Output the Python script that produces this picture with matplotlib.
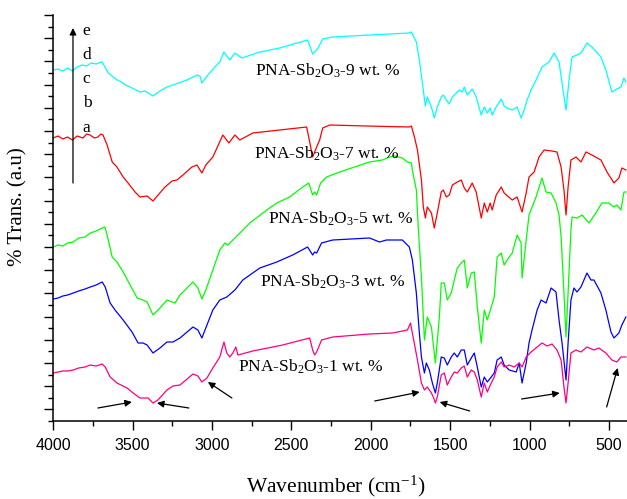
import numpy as np
import matplotlib
matplotlib.use("Agg")
import matplotlib.pyplot as plt
from matplotlib.ticker import MultipleLocator, FixedLocator, NullFormatter

plt.rcParams['mathtext.fontset'] = 'custom'
plt.rcParams['mathtext.rm'] = 'Liberation Serif'
plt.rcParams['mathtext.default'] = 'regular'

# ---- data: (wavenumber cm-1, transmittance a.u.) ----
spec9 = [(4000,351),(3970,352),(3940,350),(3910,353),(3880,350),(3850,354),(3820,356),(3790,355),(3760,358),(3730,357),
         (3700,359),(3692,359),(3654,348),(3630,345),(3598,341),(3570,339),(3545,336),(3516,334),(3453,329),(3422,330),
         (3372,325),(3328,330),(3284,334),(3246,336),(3158,341),(3095,346),(3076,345),(3064,338),(3026,346),(2982,354),
         (2951,359),(2925,369),(2888,361),(2856,368),(2812,363),(2699,369),(2574,373),(2398,381),(2366,367),(2335,372),
         (2303,382),(2240,384),(2008,386),(1757,388),(1744,389),(1713,379),(1694,361),(1675,338),(1656,315),(1644,324),
         (1618,314),(1600,303),(1581,314),(1556,324),(1543,326),(1524,321),(1505,317),(1486,324),(1461,328),(1442,331),
         (1424,329),(1411,334),(1392,326),(1361,332),(1336,324),(1304,306),(1285,314),(1266,308),(1248,313),(1235,306),
         (1210,314),(1178,322),(1160,315),(1141,313),(1109,311),(1078,314),(1053,303),(1034,311),(1015,321),(990,331),
         (959,341),(921,354),(877,359),(845,368),(814,359),(795,338),(770,311),(751,341),(732,364),(701,366),
         (676,368),(638,378),(607,374),(550,364),(519,351),(481,329),(450,332),(424,334),(405,343),(393,339)]

spec7 = [(4000,283),(3970,285),(3940,282),(3910,284),(3880,281),(3850,285),(3813,283),(3790,287),(3769,286),(3740,283),
         (3719,284),(3700,287),(3687,286),(3661,276),(3629,259),(3599,254),(3560,244),(3529,238),(3485,229),(3454,224),
         (3409,225),(3372,220),(3340,226),(3296,234),(3252,240),(3221,241),(3183,246),(3127,254),(3095,256),(3064,248),
         (3039,256),(2995,264),(2932,286),(2894,278),(2856,286),(2825,281),(2743,288),(2404,294),(2366,264),(2341,274),
         (2322,281),(2303,293),(2259,296),(2027,295),(1757,294),(1744,295),(1725,284),(1706,271),(1681,241),(1669,214),
         (1656,203),(1644,214),(1618,208),(1600,193),(1581,208),(1556,229),(1543,231),(1524,224),(1505,226),(1486,236),
         (1455,239),(1430,241),(1411,233),(1392,229),(1361,238),(1336,229),(1304,203),(1285,218),(1266,209),(1248,218),
         (1235,211),(1210,226),(1178,234),(1160,228),(1109,221),(1078,224),(1047,209),(1021,228),(1003,244),(971,249),
         (940,264),(908,271),(858,270),(827,269),(801,254),(783,231),(770,206),(757,234),(739,261),(707,264),
         (676,259),(644,269),(607,266),(550,261),(512,249),(468,238),(437,243),(418,253),(393,251)]

spec5 = [(4000,174),(3970,176),(3940,175),(3910,178),(3874,179),(3840,183),(3800,184),(3767,188),(3730,190),(3692,193),
         (3675,194),(3661,186),(3629,164),(3599,159),(3560,149),(3516,136),(3472,123),(3435,121),(3409,119),(3372,106),
         (3328,113),(3284,121),(3233,118),(3202,126),(3120,139),(3089,133),(3064,122),(3039,131),(2995,151),(2951,171),
         (2919,178),(2900,176),(2869,181),(2837,186),(2762,198),(2655,211),(2592,218),(2511,224),(2429,234),(2391,238),
         (2366,226),(2354,229),(2341,226),(2316,238),(2278,244),(2196,249),(2008,259),(1926,261),(1882,264),(1851,265),
         (1801,263),(1769,259),(1744,258),(1738,251),(1713,231),(1700,191),(1681,144),(1662,81),(1644,104),(1618,94),
         (1600,68),(1593,58),(1568,104),(1556,138),(1537,138),(1518,121),(1493,128),(1474,141),(1455,153),(1430,158),
         (1411,161),(1392,133),(1367,148),(1348,149),(1329,114),(1304,78),(1285,111),(1266,101),(1241,114),(1222,124),
         (1204,164),(1178,168),(1160,156),(1141,161),(1109,168),(1078,186),(1053,178),(1047,143),(1021,181),(1003,206),
         (959,224),(921,243),(896,229),(864,228),(833,218),(814,206),(801,184),(783,128),(770,84),(757,128),
         (739,191),(732,204),(701,203),(669,206),(625,198),(582,208),(544,218),(500,218),(469,214),(450,216),
         (424,211),(405,229),(393,229)]

spec3 = [(4000,122),(3970,123),(3940,125),(3910,126),(3874,128),(3840,130),(3800,132),(3767,134),(3730,136),(3705,138),
         (3692,139),(3673,134),(3642,118),(3611,111),(3560,101),(3504,89),(3466,78),(3435,78),(3409,76),(3372,68),
         (3328,73),(3284,79),(3246,79),(3202,83),(3120,94),(3089,91),(3064,83),(3032,96),(2995,111),(2951,121),
         (2907,124),(2856,131),(2806,141),(2699,153),(2592,159),(2492,166),(2398,174),(2366,166),(2354,169),(2341,168),
         (2310,178),(2240,181),(2008,183),(1945,179),(1901,181),(1801,181),(1757,174),(1738,161),(1713,128),(1694,88),
         (1681,64),(1662,48),(1650,58),(1631,51),(1612,38),(1593,28),(1581,38),(1556,64),(1537,63),(1518,56),
         (1493,64),(1474,68),(1455,64),(1430,71),(1411,71),(1392,56),(1367,63),(1348,68),(1329,54),(1304,34),
         (1285,44),(1266,39),(1241,44),(1222,48),(1204,61),(1178,64),(1160,56),(1128,51),(1084,49),(1065,58),
         (1047,38),(1021,58),(1003,78),(984,91),(952,111),(927,121),(896,118),(864,133),(833,129),(814,101),
         (795,78),(770,41),(757,78),(739,121),(720,133),(701,129),(676,134),(638,148),(613,141),(594,141),
         (550,128),(519,111),(487,89),(468,83),(437,88),(418,96),(393,104)]

spec1 = [(4000,48),(3970,49),(3940,50),(3910,50),(3874,51),(3840,53),(3800,54),(3767,56),(3730,55),(3692,57),
         (3673,54),(3642,44),(3599,38),(3535,33),(3497,28),(3454,23),(3403,23),(3372,18),(3341,21),(3284,31),
         (3246,35),(3202,36),(3120,47),(3089,45),(3064,39),(3032,43),(2995,53),(2951,64),(2925,79),(2907,68),
         (2888,64),(2869,68),(2850,74),(2837,66),(2743,70),(2555,76),(2385,83),(2366,71),(2354,66),(2341,69),
         (2310,81),(2240,84),(2008,87),(1863,88),(1769,91),(1750,98),(1738,88),(1706,61),(1681,38),(1662,31),
         (1644,34),(1618,28),(1606,24),(1593,18),(1581,24),(1556,46),(1537,48),(1518,36),(1493,44),(1474,49),
         (1455,48),(1430,53),(1411,55),(1392,44),(1367,51),(1348,49),(1329,41),(1304,24),(1285,38),(1266,29),
         (1241,38),(1222,44),(1204,54),(1178,59),(1160,54),(1128,56),(1097,54),(1065,58),(1047,54),(1021,64),
         (990,69),(952,74),(921,78),(889,75),(858,77),(827,71),(801,61),(783,34),(770,18),(757,38),
         (739,68),(707,71),(676,69),(638,74),(594,71),(563,73),(519,68),(481,61),(450,59),(424,64),(393,64)]

series = [spec9, spec7, spec5, spec3, spec1]
colors = ['#00FFFF', '#FF0000', '#00FF00', '#0000FF', '#FF0080']
labels = ['PNA-Sb$_2$O$_3$-9 wt. %', 'PNA-Sb$_2$O$_3$-7 wt. %', 'PNA-Sb$_2$O$_3$-5 wt. %',
          'PNA-Sb$_2$O$_3$-3 wt. %', 'PNA-Sb$_2$O$_3$-1 wt. %']
label_pos = [(2730, 345), (2737, 262), (2648, 197), (2699, 134), (2837, 49)]
letters = ['e', 'd', 'c', 'b', 'a']
letter_pos = [(3815, 386), (3815, 362), (3815, 338), (3815, 314), (3815, 289)]
arrows = [((3719, 13), (3505, 19)), ((3146, 13), (3347, 18)), ((2875, 23), (3026, 39)),
          ((1975, 20), (1692, 29)), ((1377, 10), (1566, 19)), ((1050, 22), (810, 28)),
          ((514, 14), (445, 53))]
xticks = [4000, 3500, 3000, 2500, 2000, 1500, 1000, 500]

fig = plt.figure(figsize=(6.27, 4.99), dpi=100)
ax = fig.add_axes([53.3/627, 78/499, 1 - 53.3/627 - 0.5/627, 406/499])

for s, c in zip(series, colors):
    arr = np.array(s, dtype=float)
    ax.plot(arr[:, 0], arr[:, 1], color=c, lw=0.9)

serif = 'Liberation Serif'
for lab, (x, y) in zip(labels, label_pos):
    ax.text(x, y, lab, family=serif, fontsize=12.5, ha='left', va='baseline')
for let, (x, y) in zip(letters, letter_pos):
    ax.text(x, y, let, family=serif, fontsize=12.5, ha='left', va='baseline')

ax.annotate('', xy=(3876, 393), xytext=(3876, 238),
            arrowprops=dict(arrowstyle='-|>', color='k', lw=0.9, mutation_scale=10, shrinkA=0, shrinkB=0))
for tail, head in arrows:
    ax.annotate('', xy=head, xytext=tail,
                arrowprops=dict(arrowstyle='-|>', color='k', lw=0.9, mutation_scale=10, shrinkA=0, shrinkB=0))

ax.set_xlim(4000, 389)
ax.set_ylim(0, 406)
ax.set_xticks(xticks)
ax.xaxis.set_minor_locator(MultipleLocator(250))
ax.yaxis.set_major_locator(FixedLocator(np.arange(406, 0, -23.2)))
ax.yaxis.set_minor_locator(FixedLocator(np.arange(394.4, -1, -23.2)))
ax.yaxis.set_major_formatter(NullFormatter())
for sp in ['top', 'right']:
    ax.spines[sp].set_visible(False)
for sp in ['left', 'bottom']:
    ax.spines[sp].set_linewidth(1.1)
ax.tick_params(which='major', direction='out', length=6.5, width=1.0)
ax.tick_params(which='minor', direction='out', length=3.5, width=1.0)
ax.tick_params(axis='x', which='major', pad=6)
for lbl in ax.get_xticklabels():
    lbl.set_family('Liberation Sans')
    lbl.set_fontsize(11.5)

fig.text(336/627, 7/499, 'Wavenumber (cm$^{-1}$)', family=serif, fontsize=15.5, ha='center', va='baseline')
fig.text(18/627, (499-207)/499, '% Trans. (a.u)', family=serif, fontsize=15, rotation=90, ha='center', va='center')

fig.savefig('out.png', dpi=100)
